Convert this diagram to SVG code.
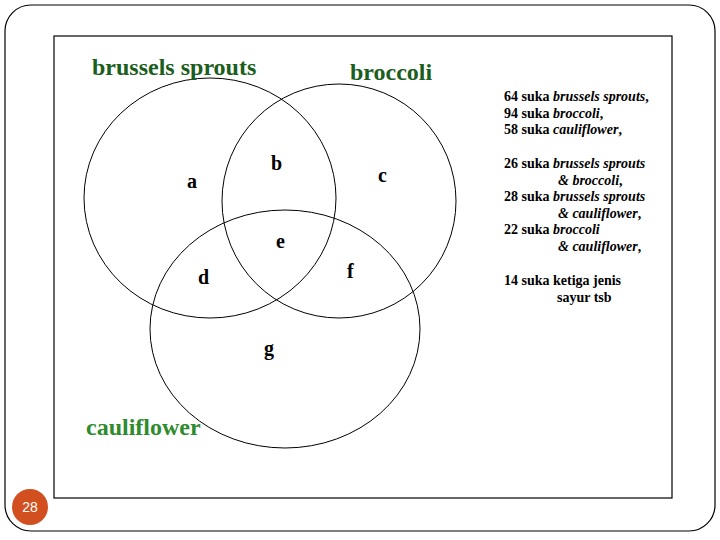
<svg xmlns="http://www.w3.org/2000/svg" width="720" height="540" viewBox="0 0 720 540">
<style>
.frame{fill:none;stroke:#000;stroke-width:1.2}
.venn{fill:none;stroke:#000;stroke-width:1}
.set{font-family:"Liberation Serif",serif;font-weight:bold;font-size:24px}
.dark{fill:#1b5e20}
.light{fill:#2e8b2e}
.reg{font-family:"Liberation Serif",serif;font-weight:bold;font-size:20px;fill:#000}
.info{font-family:"Liberation Serif",serif;font-weight:bold;font-size:14px;fill:#000}
.it{font-style:italic}
</style>
<rect width="720" height="540" fill="#fff"/>
<rect class="frame" x="5" y="5" width="710" height="526" rx="26" ry="26"/>
<rect class="frame" x="54" y="36" width="618" height="462"/>
<g id="venn">
<ellipse id="brussels-circle" class="venn" cx="210" cy="198" rx="126" ry="120"/>
<ellipse id="broccoli-circle" class="venn" cx="339" cy="201" rx="117" ry="117"/>
<ellipse id="cauliflower-circle" class="venn" cx="285" cy="329" rx="135" ry="119"/>
</g>
<g id="set-labels">
<text class="set dark" x="92" y="75">brussels sprouts</text>
<text class="set dark" x="350" y="80">broccoli</text>
<text class="set light" x="86" y="435">cauliflower</text>
</g>
<g id="regions">
<text class="reg" x="187" y="188">a</text>
<text class="reg" x="271" y="170">b</text>
<text class="reg" x="378" y="182">c</text>
<text class="reg" x="198" y="284">d</text>
<text class="reg" x="276" y="248">e</text>
<text class="reg" x="347" y="278">f</text>
<text class="reg" x="264" y="355">g</text>
</g>
<g id="info">
<text class="info" x="504" y="101">64 suka <tspan class="it">brussels sprouts</tspan>,</text>
<text class="info" x="504" y="118">94 suka <tspan class="it">broccoli</tspan>,</text>
<text class="info" x="504" y="134">58 suka <tspan class="it">cauliflower</tspan>,</text>
<text class="info" x="504" y="168">26 suka <tspan class="it">brussels sprouts</tspan></text>
<text class="info" x="558" y="185"><tspan class="it">&amp; broccoli</tspan>,</text>
<text class="info" x="504" y="201">28 suka <tspan class="it">brussels sprouts</tspan></text>
<text class="info" x="558" y="218"><tspan class="it">&amp; cauliflower</tspan>,</text>
<text class="info" x="504" y="234">22 suka <tspan class="it">broccoli</tspan></text>
<text class="info" x="558" y="251"><tspan class="it">&amp; cauliflower</tspan>,</text>
<text class="info" x="504" y="285">14 suka ketiga jenis</text>
<text class="info" x="557" y="302">sayur  tsb</text>
</g>
<g id="page-number">
<circle cx="30" cy="507" r="18" fill="#d2501f"/>
<text x="30" y="512" text-anchor="middle" font-family="Liberation Sans,sans-serif" font-size="14" fill="#fff">28</text>
</g>
</svg>
